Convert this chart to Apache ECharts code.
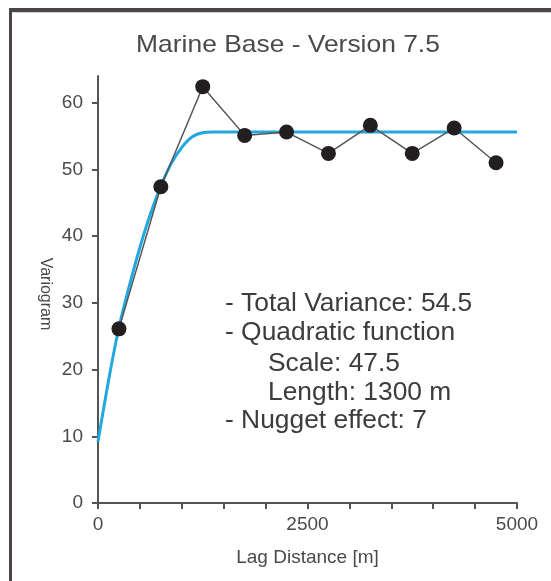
<!DOCTYPE html>
<html>
<head>
<meta charset="utf-8">
<script src="https://cdn.jsdelivr.net/npm/echarts@6/dist/echarts.min.js"></script>
<style>
html,body{margin:0;padding:0;background:#fff;}
#chart{width:551px;height:581px;}
</style>
</head>
<body>
<div id="chart"></div>
<script>
// Experimental variogram (lag centres, values)
var lagDistance = [250, 750, 1250, 1750, 2250, 2750, 3250, 3750, 4250, 4750];
var variogramValues = [26.1, 47.4, 62.4, 55.1, 55.6, 52.4, 56.6, 52.4, 56.2, 51.0];
// Fitted model curve
var modelDistance = [0, 125, 250, 375, 500, 625, 750, 875, 1000, 1125, 1250, 1375, 1500, 5000];
var modelValues = [9.2, 18.3, 26.3, 32.6, 38.3, 43.3, 47.5, 50.9, 53.3, 54.9, 55.5, 55.6, 55.6, 55.6];
// Tick labels
var yTickLabels = [0, 10, 20, 30, 40, 50, 60];
var xTickLabels = [0, 2500, 5000];
var titleText = 'Marine Base - Version 7.5';
var annotationLines = ['- Total Variance: 54.5', '- Quadratic function', 'Scale: 47.5', 'Length: 1300 m', '- Nugget effect: 7'];
var annotationIndent = [false, false, true, true, false];

var FONT = 'Liberation Sans, Arial, Helvetica, sans-serif';
var TXT = '#4a4a4a';
var AX = '#555555';

function zip(a, b) { return a.map(function (v, i) { return [v, b[i]]; }); }

var chart = echarts.init(document.getElementById('chart'), null, {renderer: 'canvas'});

var graphics = [
  {type: 'rect', shape: {x: 9, y: 8, width: 542, height: 4}, style: {fill: '#4b4545'}, silent: true},
  {type: 'rect', shape: {x: 9, y: 12, width: 542, height: 1}, style: {fill: '#d8d6d6'}, silent: true},
  {type: 'rect', shape: {x: 9, y: 8, width: 3, height: 573}, style: {fill: '#4b4545'}, silent: true},
  {type: 'text', x: 288, y: 45, scaleX: 1.1, style: {text: titleText, font: '24px ' + FONT, fill: TXT, align: 'center', verticalAlign: 'middle'}},
  {type: 'text', x: 45, y: 294, rotation: -Math.PI / 2, style: {text: 'Variogram', font: '16px ' + FONT, fill: TXT, align: 'center', verticalAlign: 'middle'}}
];
var annY = [304, 333, 364, 393, 421];
annotationLines.forEach(function (t, i) {
  graphics.push({type: 'text', x: annotationIndent[i] ? 268 : 225, y: annY[i], scaleX: 1.055,
    style: {text: t, font: '25px ' + FONT, fill: '#3c3c3c', align: 'left', verticalAlign: 'middle'}});
});

chart.setOption({
  animation: false,
  backgroundColor: '#ffffff',
  graphic: graphics,
  grid: {left: 98, right: 34, top: 76, bottom: 78, containLabel: false},
  xAxis: {
    type: 'value', min: 0, max: 5000, interval: 500,
    name: 'Lag Distance [m]', nameLocation: 'middle', nameGap: 45,
    nameTextStyle: {fontSize: 19, fontFamily: FONT, color: TXT},
    axisLine: {onZero: false, lineStyle: {color: AX, width: 2}},
    axisTick: {show: true, length: 6, inside: false, lineStyle: {color: AX, width: 2}},
    axisLabel: {customValues: xTickLabels, formatter: function (v) { return String(v); },
      fontSize: 19, fontFamily: FONT, color: TXT, margin: 12},
    splitLine: {show: false}
  },
  yAxis: {
    type: 'value', min: 0, max: 64, interval: 10,
    axisLine: {show: true, onZero: false, lineStyle: {color: AX, width: 2}},
    axisTick: {show: true, length: 6, customValues: yTickLabels, lineStyle: {color: AX, width: 2}},
    axisLabel: {customValues: yTickLabels, formatter: function (v) { return String(v); },
      fontSize: 19, fontFamily: FONT, color: TXT, margin: 15},
    splitLine: {show: false}
  },
  series: [
    {
      type: 'line', data: zip(modelDistance, modelValues), smooth: 0.3,
      showSymbol: false, symbol: 'none', lineStyle: {color: '#22a8e0', width: 3}, z: 2
    },
    {
      type: 'line', data: zip(lagDistance, variogramValues),
      symbol: 'circle', symbolSize: 15, showSymbol: true,
      itemStyle: {color: '#231f20'}, lineStyle: {color: '#555555', width: 1.5}, z: 3
    }
  ]
});
</script>
</body>
</html>
